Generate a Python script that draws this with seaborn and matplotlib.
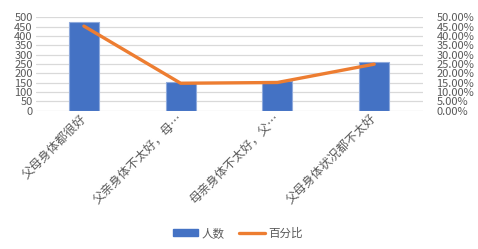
import matplotlib
matplotlib.use("Agg")
import matplotlib.pyplot as plt
import seaborn as sns
import pandas as pd
from matplotlib.ticker import FuncFormatter
from matplotlib.patches import Patch
from matplotlib.lines import Line2D

categories = ["父母身体都很好", "父亲身体不太好，母…", "母亲身体不太好，父…", "父母身体状况都不太好"]
counts = [473, 153, 158, 260]
percents = [0.453, 0.147, 0.151, 0.249]
left_ticks = list(range(0, 501, 50))
right_ticks = [i * 0.05 for i in range(11)]

sns.set_theme(style="white")
plt.rcParams['font.family'] = ['Noto Sans CJK SC', 'DejaVu Sans']

bar_color = "#4472C4"
line_color = "#ED7D31"
text_color = "#595959"
grid_color = "#D9D9D9"

df = pd.DataFrame({"cat": categories, "count": counts, "pct": percents})

fig = plt.figure(figsize=(4.78, 2.49), dpi=100)
ax = fig.add_axes([0.0743, 0.5554, 0.8097, 0.3751])

sns.barplot(data=df, x="cat", y="count", color=bar_color, width=0.31,
            edgecolor="#8FAADC", linewidth=0.8, saturation=1, ax=ax, zorder=2)
ax.set_ylim(0, 500)
ax.set_yticks(left_ticks)
ax.yaxis.grid(True, color=grid_color, linewidth=0.9, zorder=0)
ax.set_axisbelow(True)
for s in ax.spines.values():
    s.set_visible(False)
ax.set_xlabel("")
ax.set_ylabel("")
ax.tick_params(axis="y", length=0, pad=2, labelsize=8, labelcolor=text_color)
ax.tick_params(axis="x", length=0, pad=4, labelsize=8.7, labelcolor=text_color)
for lbl in ax.get_xticklabels():
    lbl.set_rotation(45)
    lbl.set_ha("right")
    lbl.set_va("center")
    lbl.set_rotation_mode("anchor")
ax.set_xlim(-0.5, 3.5)

ax2 = ax.twinx()
sns.lineplot(x=list(range(len(categories))), y=percents, color=line_color,
             linewidth=2.4, ax=ax2, zorder=3)
ax2.set_ylim(0, 0.5)
ax2.set_yticks(right_ticks)
ax2.yaxis.set_major_formatter(FuncFormatter(lambda v, p: f"{v*100:.2f}%"))
ax2.tick_params(axis="y", length=0, pad=10, labelsize=8, labelcolor=text_color)
for s in ax2.spines.values():
    s.set_visible(False)
ax2.set_ylabel("")
ax2.grid(False)
ax.set_xlim(-0.5, 3.5)

handles = [Patch(facecolor=bar_color, edgecolor=bar_color),
           Line2D([0], [0], color=line_color, linewidth=2.4)]
fig.legend(handles, ["人数", "百分比"], loc="center", bbox_to_anchor=(0.497, 0.064),
           ncol=2, frameon=False, fontsize=8.3, handlelength=2.2, handleheight=0.55,
           columnspacing=1.3, handletextpad=0.3, labelcolor=text_color)

fig.savefig("out.png", dpi=100)
